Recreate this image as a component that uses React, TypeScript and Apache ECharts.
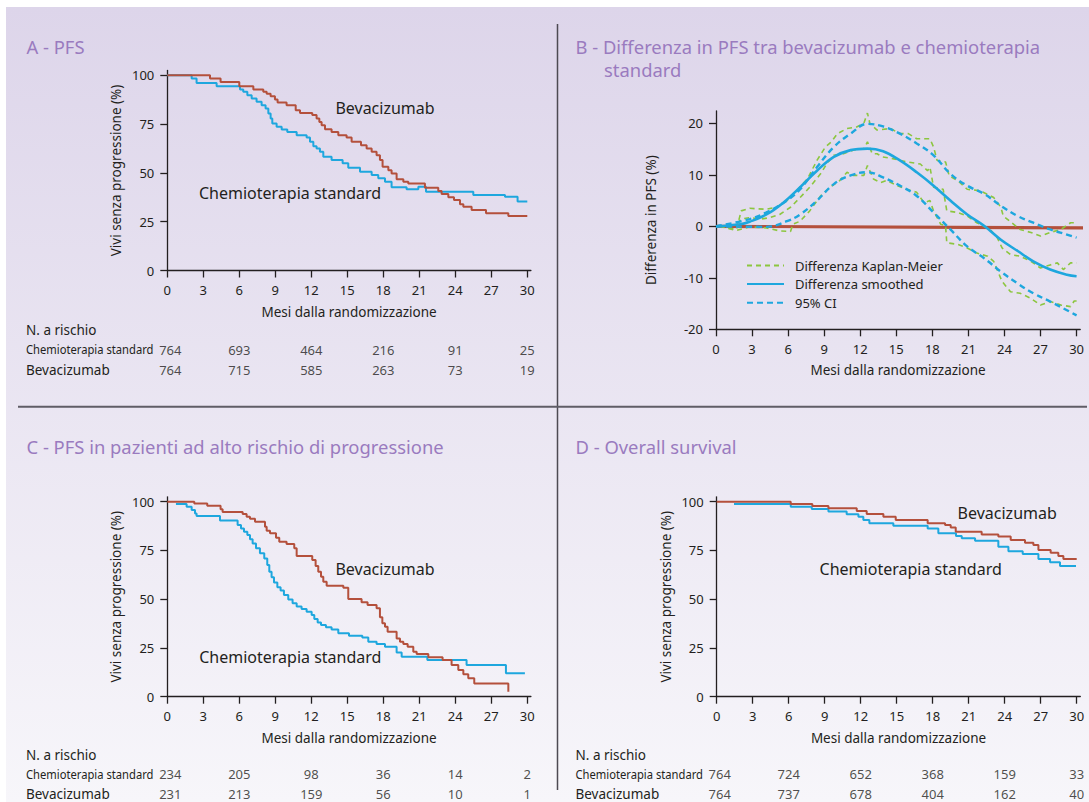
import React, { useEffect, useRef } from "react";
import * as echarts from "echarts";

// ---------- tick labels ----------
const monthTicks = [0, 3, 6, 9, 12, 15, 18, 21, 24, 27, 30];
const survTicks = [0, 25, 50, 75, 100];
const diffTicks = [-20, -10, 0, 10, 20];
const riskMonths = [0, 6, 12, 18, 24, 30];

// ---------- Panel A: PFS ----------
const pfsA_bev: [number, number][] = [
  [0, 100], [3.56, 98.3], [4.44, 96.6], [6.0, 94.4], [7.17, 92.7], [8.0, 91.5], [8.28, 90.6],
  [8.61, 89.3], [8.97, 87.6], [9.19, 86.0], [9.94, 84.7], [10.7, 82.1], [11.06, 80.7],
  [12.08, 79.6], [12.44, 77.9], [12.67, 76.1], [12.86, 74.4], [13.14, 72.3], [13.69, 71.0],
  [14.25, 69.3], [14.94, 68.1], [15.36, 65.9], [16.14, 64.2], [16.61, 62.5], [17.03, 60.8],
  [17.44, 59.1], [17.72, 56.6], [17.94, 53.2], [18.42, 51.4], [18.69, 49.7], [19.11, 46.8],
  [19.67, 45.5], [20.08, 44.6], [21.47, 42.4], [22.58, 40.7], [22.86, 39.2], [23.42, 37.5],
  [23.89, 36.1], [24.39, 33.9], [24.67, 32.7], [25.36, 31.0], [26.56, 29.3], [28.42, 27.9],
  [30, 27.9],
];
const pfsA_chemo: [number, number][] = [
  [0, 100], [2.03, 98.3], [2.44, 96.1], [4.11, 94.4], [6.06, 92.7], [6.33, 91.5], [6.67, 89.8],
  [7.03, 88.1], [7.44, 86.4], [7.86, 84.7], [8.19, 83.0], [8.42, 80.4], [8.61, 77.9],
  [8.75, 75.3], [9.11, 73.6], [9.53, 72.2], [10.0, 71.0], [10.78, 69.3], [11.61, 68.1],
  [11.89, 65.9], [12.17, 63.7], [12.44, 62.5], [12.72, 60.8], [13.0, 58.3], [13.69, 56.6],
  [14.61, 54.9], [15.08, 52.6], [16.06, 50.6], [17.03, 48.9], [17.58, 47.2], [18.14, 45.5],
  [18.69, 42.6], [19.94, 41.6], [20.92, 42.9], [21.56, 40.4], [25.5, 38.7], [28.14, 37.8],
  [29.19, 35.3], [30, 35.3],
];
const riskA_chemo = [764, 693, 464, 216, 91, 25];
const riskA_bev = [764, 715, 585, 263, 73, 19];

// ---------- Panel B: difference in PFS ----------
const diffZero: [number, number][] = [[0, 0], [31, -0.3]];
const diffSmoothed: [number, number][] = [
  [0, 0], [2, 0.4], [2.8, 0.9], [4.2, 2.3], [5.6, 4.6], [7, 7.6], [8.4, 10.8], [9.8, 13.5],
  [11.2, 14.8], [12.6, 15.1], [13.9, 14.6], [15.3, 12.8], [16.7, 10.5], [18.1, 7.9],
  [19.5, 5.0], [20.9, 2.3], [22.3, 0.1], [23.7, -2.6], [25.1, -4.8], [26.4, -6.8],
  [27.8, -8.4], [29.2, -9.4], [30, -9.7],
];
const diffCiUpper: [number, number][] = [
  [0, 0], [2.8, 1.4], [4.2, 2.7], [5.9, 5.0], [7, 7.2], [8.4, 11.5], [9.8, 15.4], [11.2, 18.0],
  [12.6, 19.9], [13.9, 19.4], [15.3, 18.0], [16.7, 16.1], [18.1, 13.8], [19.5, 10.2],
  [20.9, 7.9], [22.3, 6.3], [23.7, 4.0], [25.1, 2.0], [26.4, 0.7], [27.8, -0.6],
  [29.2, -1.6], [30, -2.2],
];
const diffCiLower: [number, number][] = [
  [0, 0], [4.2, -0.1], [5.9, 1.0], [7, 2.3], [8.4, 5.0], [9.8, 8.2], [11.2, 9.9], [12.6, 10.5],
  [13.9, 9.5], [15.3, 7.9], [16.7, 5.9], [18.1, 2.7], [19.5, -0.6], [20.9, -3.9],
  [22.3, -6.2], [23.7, -8.8], [25.1, -11.1], [26.4, -13.0], [27.8, -14.6], [29.2, -16.3],
  [30, -17.3],
];
const kmDiffUpper: [number, number][] = [
  [0.3, 0], [1.7, -0.6], [2.1, 3.0], [2.8, 3.5], [4.2, 3.3], [5.1, 3.8], [5.9, 5.0], [6.7, 6.9],
  [7.6, 9.2], [8.4, 12.8], [9.1, 15.4], [9.6, 16.4], [10.1, 18.0], [10.9, 19.0], [11.7, 19.3],
  [12.3, 20.0], [12.6, 22.0], [12.8, 20.0], [13.4, 18.7], [14.5, 19.0], [15.3, 18.0],
  [16.0, 18.0], [16.7, 17.0], [17.8, 17.0], [18.1, 15.4], [18.4, 12.8], [19.1, 12.5],
  [19.4, 9.8], [20.1, 8.9], [20.9, 7.2], [22.0, 6.9], [23.1, 5.6], [23.7, 3.7], [23.9, 2.0],
  [24.6, 0.7], [25.3, -0.6], [26.2, -1.2], [27.0, -1.9], [27.8, -1.2], [28.7, -0.6],
  [29.5, 0.7], [30, 0.7],
];
const kmDiff: [number, number][] = [
  [0.3, 0], [1.7, 0.4], [2.1, 1.4], [2.8, 1.7], [3.7, 1.4], [4.5, 1.7], [5.3, 2.3], [6.2, 3.7],
  [7.0, 5.6], [7.8, 7.6], [8.7, 10.2], [9.2, 12.1], [9.8, 13.8], [10.6, 14.1], [11.4, 14.8],
  [12.3, 15.1], [12.6, 16.4], [13.0, 14.1], [13.4, 14.1], [13.8, 13.5], [14.8, 13.1],
  [15.9, 12.5], [17.0, 12.1], [17.6, 10.8], [17.8, 11.5], [18.1, 7.6], [18.9, 7.2],
  [19.2, 3.0], [20.1, 2.7], [20.9, 2.0], [21.7, 0.7], [22.8, -0.6], [23.4, -2.2],
  [23.8, -4.2], [24.5, -5.5], [25.3, -5.8], [26.2, -6.8], [27.0, -8.1], [27.8, -7.5],
  [28.4, -7.1], [28.9, -8.4], [29.5, -7.1], [30, -7.1],
];
const kmDiffLower: [number, number][] = [
  [0.3, 0], [1.7, -0.8], [2.8, -0.1], [4.2, -0.3], [5.3, -0.9], [6.2, -1.0], [6.4, 0.4],
  [7.0, 1.0], [7.8, 3.0], [8.7, 5.9], [9.5, 7.6], [10.3, 8.9], [10.9, 10.5], [11.4, 9.9],
  [12.3, 9.9], [12.6, 11.8], [13.1, 9.2], [13.7, 8.5], [14.2, 8.9], [15.1, 7.9], [15.9, 7.2],
  [16.7, 6.6], [17.3, 4.6], [17.8, 5.0], [18.1, 3.0], [18.7, 0.4], [19.1, 0.1], [19.2, -3.2],
  [20.1, -3.5], [20.9, -4.2], [21.7, -5.2], [22.6, -5.8], [23.1, -6.8], [23.8, -10.7],
  [24.5, -12.7], [25.3, -13.0], [26.2, -14.0], [27.0, -15.3], [27.8, -14.6], [28.7, -15.3],
  [29.5, -15.6], [29.8, -14.5], [30, -14.5],
];

// ---------- Panel C: PFS high-risk ----------
const pfsC_bev: [number, number][] = [
  [0, 100], [2.25, 99.1], [3.33, 97.9], [4.44, 96.1], [4.61, 94.7], [6.28, 93.7], [6.61, 92.3],
  [6.89, 91.3], [7.31, 89.7], [8.14, 87.2], [8.28, 85.1], [8.56, 83.8], [9.06, 81.5],
  [9.33, 79.5], [9.94, 78.3], [10.58, 76.1], [10.78, 72.1], [12.08, 70.1], [12.36, 67.0],
  [12.58, 64.1], [12.81, 61.5], [13.0, 59.0], [13.28, 56.9], [14.67, 55.9], [15.08, 50.1],
  [16.19, 48.4], [16.69, 47.0], [17.44, 45.3], [17.72, 40.7], [17.92, 37.6], [18.14, 35.9],
  [18.36, 33.3], [19.11, 29.9], [19.39, 28.2], [19.67, 27.0], [20.03, 25.6], [20.5, 23.1],
  [20.78, 21.9], [21.75, 20.2], [22.94, 18.8], [23.69, 16.2], [24.25, 13.7], [24.67, 11.5],
  [25.08, 9.4], [25.58, 6.8], [28.42, 2.6],
];
const pfsC_chemo: [number, number][] = [
  [0.72, 98.8], [1.61, 97.4], [2.03, 95.7], [2.31, 94.0], [2.44, 92.6], [4.39, 90.3],
  [5.86, 88.0], [6.14, 86.3], [6.39, 84.6], [6.67, 82.9], [6.89, 80.7], [7.11, 78.6],
  [7.39, 76.1], [7.72, 73.5], [8.08, 70.9], [8.33, 67.5], [8.5, 64.1], [8.69, 61.2],
  [8.89, 58.5], [9.17, 56.1], [9.44, 54.4], [9.72, 52.1], [10.08, 49.9], [10.44, 47.9],
  [10.78, 46.2], [11.19, 45.0], [11.61, 43.6], [12.03, 41.9], [12.25, 39.8], [12.53, 38.1],
  [12.81, 36.8], [13.22, 35.6], [13.69, 34.5], [14.25, 32.5], [15.14, 31.3], [16.25, 30.3],
  [16.75, 28.2], [17.44, 27.0], [18.14, 25.6], [19.11, 22.7], [19.53, 20.5], [21.67, 18.8],
  [24.94, 16.2], [28.22, 12.0], [29.8, 12.0],
];
const riskC_chemo = [234, 205, 98, 36, 14, 2];
const riskC_bev = [231, 213, 159, 56, 10, 1];

// ---------- Panel D: overall survival ----------
const osD_bev: [number, number][] = [
  [0, 100], [6.17, 98.8], [7.97, 97.8], [9.31, 96.6], [11.67, 95.2], [12.5, 93.7],
  [13.89, 92.3], [14.92, 90.6], [17.58, 88.9], [19.03, 88.0], [19.5, 86.7], [19.92, 84.6],
  [22.08, 83.2], [23.47, 82.1], [24.5, 80.3], [25.69, 79.0], [26.39, 77.8], [26.81, 75.2],
  [27.83, 73.8], [28.47, 72.1], [28.89, 70.6], [30, 70.6],
];
const osD_chemo: [number, number][] = [
  [1.44, 98.8], [6.17, 97.4], [7.92, 96.2], [9.31, 94.9], [10.83, 93.5], [11.81, 92.3],
  [12.22, 90.6], [12.72, 88.9], [14.72, 87.7], [17.58, 86.3], [18.47, 83.8], [19.94, 82.4],
  [20.42, 81.2], [21.53, 80.0], [23.47, 76.9], [24.31, 74.6], [25.5, 73.2], [26.81, 70.6],
  [27.78, 68.9], [28.61, 67.0], [29.94, 67.0],
];
const riskD_chemo = [764, 724, 652, 368, 159, 33];
const riskD_bev = [764, 737, 678, 404, 162, 40];

// ---------- styles ----------
const FONT = "'Noto Sans', 'Open Sans', sans-serif";
const INK = "#231f20";
const RED = "#b4503c";
const BLUE = "#1ea7de";
const GREEN = "#8cc63f";
const PURPLE = "#9a7bbf";
const AXIS_MAX_X = 30.3;

function axisCommon() {
  return {
    axisLine: { show: true, lineStyle: { color: INK, width: 1.3 } },
    axisTick: { show: true, length: 7, lineStyle: { color: INK, width: 1.3 } },
    splitLine: { show: false },
    nameTextStyle: { fontSize: 13.5, color: INK, fontFamily: FONT },
  };
}

function xPlotAxis(gridIndex: number) {
  const c = axisCommon();
  return {
    type: "value",
    gridIndex,
    min: 0,
    max: AXIS_MAX_X,
    ...c,
    axisLine: { ...c.axisLine, onZero: false },
    axisTick: { ...c.axisTick, customValues: monthTicks },
    axisLabel: { customValues: monthTicks, margin: 13, fontSize: 13, color: INK, fontFamily: FONT },
    name: "Mesi dalla randomizzazione",
    nameLocation: "middle",
    nameGap: 34,
  };
}

function yPlotAxis(gridIndex: number, name: string, min: number, max: number, ticks: number[], gap: number) {
  const c = axisCommon();
  return {
    type: "value",
    gridIndex,
    min,
    max,
    ...c,
    axisLine: { ...c.axisLine, onZero: false },
    axisTick: { ...c.axisTick, customValues: ticks },
    axisLabel: { customValues: ticks, margin: 13, fontSize: 13, color: INK, fontFamily: FONT },
    name,
    nameLocation: "middle",
    nameGap: gap,
  };
}

function kmSeries(name: string, data: [number, number][], color: string, axisIndex: number, z: number) {
  return {
    type: "line",
    name,
    data,
    step: "end",
    xAxisIndex: axisIndex,
    yAxisIndex: axisIndex,
    symbol: "none",
    showSymbol: false,
    z,
    lineStyle: { color, width: 2 },
    itemStyle: { color },
  };
}

function riskSeries(axisIndex: number, chemo: number[], bev: number[]) {
  const data: any[] = [];
  riskMonths.forEach((m, i) => {
    data.push({ value: [m, 1, chemo[i]], label: { offset: [i === 0 ? 3 : 0, 0] } });
    data.push({ value: [m, 0, bev[i]], label: { offset: [i === 0 ? 3 : 0, 0] } });
  });
  return {
    type: "scatter",
    xAxisIndex: axisIndex,
    yAxisIndex: axisIndex,
    symbolSize: 1,
    itemStyle: { color: "rgba(0,0,0,0)" },
    silent: true,
    clip: false,
    label: {
      show: true,
      position: "inside",
      formatter: (p: any) => String(p.value[2]),
      fontSize: 13,
      color: INK,
      fontFamily: FONT,
    },
    data,
  };
}

function text(x: number, y: number, t: string, size: number, color: string, extra: any = {}) {
  return {
    type: "text",
    x,
    y,
    z: 5,
    ...extra,
    style: { text: t, fontSize: size, fontFamily: FONT, fill: color, align: "left", verticalAlign: "middle" },
  };
}

export default function App() {
  const ref = useRef<HTMLDivElement>(null);

  useEffect(() => {
    document.body.style.margin = "0";
    if (!ref.current) return;
    const chart = echarts.init(ref.current, undefined, { renderer: "svg" });

    const hiddenAxis = (gridIndex: number, min: number, max: number) => ({
      type: "value",
      gridIndex,
      min,
      max,
      show: false,
    });

    const option: any = {
      animation: false,
      grid: [
        { left: 167.3, top: 70.4, width: 363.6, height: 200.1 }, // A
        { left: 716, top: 111, width: 364.2, height: 218.3 }, // B
        { left: 167.3, top: 496.8, width: 363.6, height: 199.9 }, // C
        { left: 716.7, top: 496.8, width: 363.6, height: 199.9 }, // D
        { left: 167.3, top: 349.5, width: 360, height: 20.5 }, // A table
        { left: 167.3, top: 774, width: 360, height: 20 }, // C table
        { left: 716.7, top: 774, width: 360, height: 20 }, // D table
      ],
      xAxis: [
        xPlotAxis(0),
        xPlotAxis(1),
        xPlotAxis(2),
        xPlotAxis(3),
        hiddenAxis(4, 0, 30),
        hiddenAxis(5, 0, 30),
        hiddenAxis(6, 0, 30),
      ],
      yAxis: [
        yPlotAxis(0, "Vivi senza progressione (%)", 0, 102.5, survTicks, 44),
        yPlotAxis(1, "Differenza in PFS (%)", -20, 22.4, diffTicks, 58),
        yPlotAxis(2, "Vivi senza progressione (%)", 0, 102.5, survTicks, 44),
        yPlotAxis(3, "Vivi senza progressione (%)", 0, 102.5, survTicks, 44),
        hiddenAxis(4, 0, 1),
        hiddenAxis(5, 0, 1),
        hiddenAxis(6, 0, 1),
      ],
      legend: {
        data: ["Differenza Kaplan-Meier", "Differenza smoothed", "95% CI"],
        orient: "vertical",
        left: 746,
        top: 259,
        padding: 0,
        itemWidth: 37,
        itemHeight: 12,
        itemGap: 5.6,
        selectedMode: false,
        itemStyle: { color: "rgba(0,0,0,0)", borderColor: "rgba(0,0,0,0)", borderWidth: 0 },
        textStyle: { fontSize: 13, color: INK, fontFamily: FONT, padding: [0, 0, 0, 6] },
      },
      series: [
        kmSeries("Chemioterapia standard A", pfsA_chemo, BLUE, 0, 3),
        kmSeries("Bevacizumab A", pfsA_bev, RED, 0, 4),
        {
          type: "line",
          name: "zero",
          data: diffZero,
          xAxisIndex: 1,
          yAxisIndex: 1,
          symbol: "none",
          clip: false,
          z: 2,
          lineStyle: { color: RED, width: 3.2 },
        },
        ...[kmDiffUpper, kmDiff, kmDiffLower].map((d) => ({
          type: "line",
          name: "Differenza Kaplan-Meier",
          data: d,
          xAxisIndex: 1,
          yAxisIndex: 1,
          symbol: "none",
          z: 3,
          lineStyle: { color: GREEN, width: 1.6, type: [5, 4] },
          itemStyle: { color: GREEN },
        })),
        ...[diffCiUpper, diffCiLower].map((d) => ({
          type: "line",
          name: "95% CI",
          data: d,
          smooth: 0.4,
          xAxisIndex: 1,
          yAxisIndex: 1,
          symbol: "none",
          z: 4,
          lineStyle: { color: BLUE, width: 2.4, type: [6, 4] },
          itemStyle: { color: BLUE },
        })),
        {
          type: "line",
          name: "Differenza smoothed",
          data: diffSmoothed,
          smooth: 0.4,
          xAxisIndex: 1,
          yAxisIndex: 1,
          symbol: "none",
          z: 5,
          lineStyle: { color: BLUE, width: 2.6 },
          itemStyle: { color: BLUE },
        },
        kmSeries("Chemioterapia standard C", pfsC_chemo, BLUE, 2, 3),
        kmSeries("Bevacizumab C", pfsC_bev, RED, 2, 4),
        kmSeries("Chemioterapia standard D", osD_chemo, BLUE, 3, 3),
        kmSeries("Bevacizumab D", osD_bev, RED, 3, 4),
        riskSeries(4, riskA_chemo, riskA_bev),
        riskSeries(5, riskC_chemo, riskC_bev),
        riskSeries(6, riskD_chemo, riskD_bev),
      ],
      graphic: [
        {
          type: "rect",
          z: -10,
          silent: true,
          shape: { x: 6, y: 7, width: 1083, height: 795 },
          style: {
            fill: new echarts.graphic.LinearGradient(0, 0, 0, 1, [
              { offset: 0, color: "#ddd5ea" },
              { offset: 1, color: "#f7f6fa" },
            ]),
          },
        },
        { type: "line", z: 1, shape: { x1: 557.5, y1: 24, x2: 557.5, y2: 790 }, style: { stroke: "#4d4a52", lineWidth: 1.5 } },
        { type: "line", z: 1, shape: { x1: 18, y1: 406.7, x2: 1087, y2: 406.7 }, style: { stroke: "#5f5d66", lineWidth: 2 } },
        // titles
        text(26.5, 46, "A - PFS", 18.4, PURPLE),
        text(575.5, 46, "B - Differenza in PFS tra bevacizumab e chemioterapia", 18.4, PURPLE),
        text(604, 69, "standard", 18.4, PURPLE),
        text(26.5, 446, "C - PFS in pazienti ad alto rischio di progressione", 18.4, PURPLE),
        text(575.5, 446, "D - Overall survival", 18.4, PURPLE),
        // curve annotations
        text(335.4, 108, "Bevacizumab", 16, INK),
        text(199, 193, "Chemioterapia standard", 16, INK),
        text(335.4, 569.3, "Bevacizumab", 16, INK),
        text(199.2, 656.7, "Chemioterapia standard", 16, INK),
        text(957.6, 512.7, "Bevacizumab", 16, INK),
        text(819.6, 569.3, "Chemioterapia standard", 16, INK),
        // at-risk tables
        text(26, 329.5, "N. a rischio", 13.5, INK),
        text(26, 349.5, "Chemioterapia standard", 13.5, INK, { scaleX: 0.83, scaleY: 1 }),
        text(26, 370, "Bevacizumab", 13.5, INK),
        text(26, 754.5, "N. a rischio", 13.5, INK),
        text(26, 774, "Chemioterapia standard", 13.5, INK, { scaleX: 0.83, scaleY: 1 }),
        text(26, 794, "Bevacizumab", 13.5, INK),
        text(575.5, 754.5, "N. a rischio", 13.5, INK),
        text(575.5, 774, "Chemioterapia standard", 13.5, INK, { scaleX: 0.83, scaleY: 1 }),
        text(575.5, 794, "Bevacizumab", 13.5, INK),
      ],
    };

    chart.setOption(option);
    return () => chart.dispose();
  }, []);

  return <div ref={ref} style={{ width: 1089, height: 802, background: "#ffffff" }} />;
}
